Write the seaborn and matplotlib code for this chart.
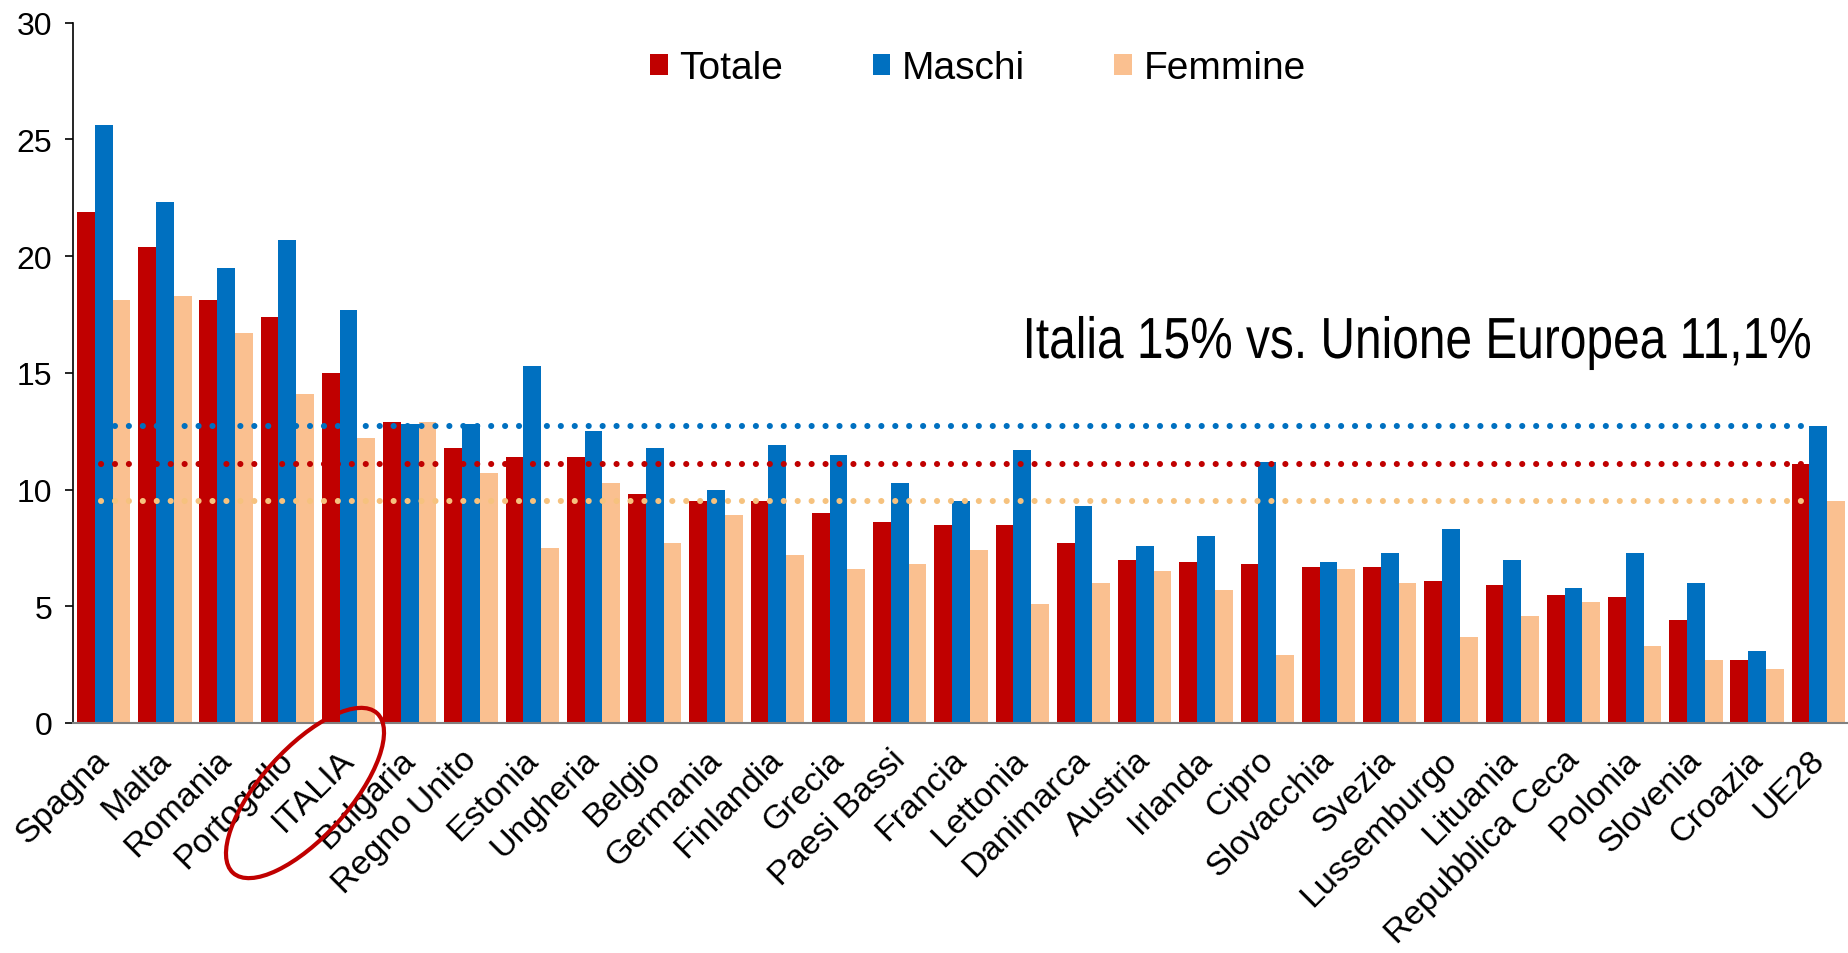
import numpy as np
import pandas as pd
import matplotlib
matplotlib.use("Agg")
import matplotlib.pyplot as plt
from matplotlib.patches import Ellipse, PathPatch
from matplotlib.textpath import TextPath
from matplotlib.font_manager import FontProperties
from matplotlib.transforms import Affine2D, ScaledTranslation
import seaborn as sns

# Dati: abbandoni scolastici per paese (%)
paesi = ["Spagna", "Malta", "Romania", "Portogallo", "ITALIA", "Bulgaria", "Regno Unito",
         "Estonia", "Ungheria", "Belgio", "Germania", "Finlandia", "Grecia", "Paesi Bassi",
         "Francia", "Lettonia", "Danimarca", "Austria", "Irlanda", "Cipro", "Slovacchia",
         "Svezia", "Lussemburgo", "Lituania", "Repubblica Ceca", "Polonia", "Slovenia",
         "Croazia", "UE28"]
totale = [21.9, 20.4, 18.1, 17.4, 15.0, 12.9, 11.8, 11.4, 11.4, 9.8, 9.5, 9.5, 9.0, 8.6,
          8.5, 8.5, 7.7, 7.0, 6.9, 6.8, 6.7, 6.7, 6.1, 5.9, 5.5, 5.4, 4.4, 2.7, 11.1]
maschi = [25.6, 22.3, 19.5, 20.7, 17.7, 12.8, 12.8, 15.3, 12.5, 11.8, 10.0, 11.9, 11.5, 10.3,
          9.5, 11.7, 9.3, 7.6, 8.0, 11.2, 6.9, 7.3, 8.3, 7.0, 5.8, 7.3, 6.0, 3.1, 12.7]
femmine = [18.1, 18.3, 16.7, 14.1, 12.2, 12.9, 10.7, 7.5, 10.3, 7.7, 8.9, 7.2, 6.6, 6.8,
           7.4, 5.1, 6.0, 6.5, 5.7, 2.9, 6.6, 6.0, 3.7, 4.6, 5.2, 3.3, 2.7, 2.3, 9.5]
serie = ["Totale", "Maschi", "Femmine"]
colori_barre = ["#C00000", "#0070C0", "#FAC090"]
colori_linee = ["#C00000", "#0070C0", "#F6C27E"]
titolo = "Italia 15% vs. Unione Europea 11,1%"

df = pd.DataFrame({"paese": paesi, "Totale": totale, "Maschi": maschi, "Femmine": femmine})
df_long = df.melt(id_vars="paese", value_vars=serie, var_name="serie", value_name="valore")

sns.set_style("white")
plt.rcParams["font.family"] = ["Liberation Sans", "DejaVu Sans"]
plt.rcParams["text.color"] = "black"
plt.rcParams["xtick.color"] = "black"
plt.rcParams["ytick.color"] = "black"

fig = plt.figure(figsize=(18.49, 9.54), dpi=100)
ax = fig.add_axes([73 / 1849, 230 / 954, 1 - 73 / 1849, 700.4 / 954])

sns.barplot(data=df_long, x="paese", y="valore", hue="serie", hue_order=serie,
            palette=colori_barre, saturation=1, width=0.87, linewidth=0, ax=ax)

# linee punteggiate: valori UE28
ue = df[df.paese == "UE28"].iloc[0]
for s, c in zip(serie, colori_linee):
    ax.hlines(ue[s], -0.05, len(paesi) - 1.1, colors=c, linewidth=4.4,
              linestyles=(0, (0.01, 2.27)), capstyle="round", zorder=5)

ax.set_xlabel("")
ax.set_ylabel("")
ax.set_yticks(np.arange(0, 31, 5))
ax.set_xticks(np.arange(len(paesi)))
ax.set_xticklabels(paesi, rotation=45, ha="right", rotation_mode="anchor", fontsize=24.5)
ax.set_xticks(np.arange(len(paesi) + 1) - 0.5, minor=True)
ax.set_ylim(0, 30)
ax.set_xlim(-0.5, len(paesi) - 0.5)
ax.tick_params(axis="x", which="major", length=0, pad=15)
ax.tick_params(axis="x", which="minor", length=7, width=1.2, color="#808080", direction="out")
ax.tick_params(axis="y", labelsize=23, length=6, width=1.2, direction="out", left=True, pad=9)
sposta = ScaledTranslation(-0.10, 0, fig.dpi_scale_trans)
for lab in ax.get_xticklabels():
    lab.set_transform(lab.get_transform() + sposta)
for sp in ["top", "right"]:
    ax.spines[sp].set_visible(False)
ax.spines["left"].set_color("black")
ax.spines["left"].set_linewidth(1.2)
ax.spines["bottom"].set_color("#808080")
ax.spines["bottom"].set_linewidth(1.5)

handles, labels = ax.get_legend_handles_labels()
ax.legend_.remove()
fig.legend(handles, labels, loc="center", bbox_to_anchor=(978 / 1849, 1 - 69 / 954),
           ncol=3, frameon=False, handlelength=0.45, handleheight=0.45,
           handletextpad=0.3, columnspacing=2.3, fontsize=28)

# testo in carattere stretto (Arial Narrow non disponibile: scala orizzontale)
tp = TextPath((0, 0), titolo, size=58, prop=FontProperties(family="Liberation Sans"))
sx = 0.825
larg = tp.get_extents().x1 * sx
fig.add_artist(PathPatch(tp, transform=Affine2D().scale(sx, 1).translate(1810 - larg, 954 - 359),
                         facecolor="black", edgecolor="none"))

# cerchio rosso attorno a ITALIA
ell = Ellipse((3.05, 9.54 - 7.94), 2.15, 0.88, angle=48, fill=False,
              edgecolor="#C00000", linewidth=3, transform=fig.dpi_scale_trans)
fig.add_artist(ell)

fig.savefig("out.png", dpi=100)
